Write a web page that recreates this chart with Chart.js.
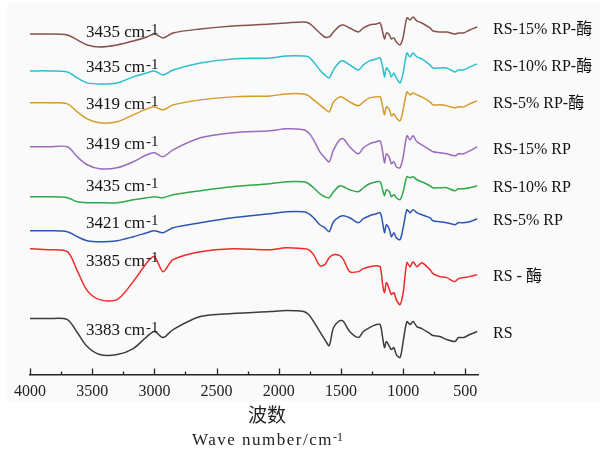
<!DOCTYPE html>
<html>
<head>
<meta charset="utf-8">
<script src="https://cdn.jsdelivr.net/npm/chart.js@4.4.1/dist/chart.umd.min.js"></script>
<style>
  html, body { margin: 0; padding: 0; background: #fff; }
</style>
</head>
<body>
<canvas id="ftir" width="600" height="453"></canvas>
<script>
// wave numbers (cm-1) shared by every spectrum
const waveNumbers = [4000, 3850, 3700, 3620, 3540, 3440, 3300, 3170, 3060, 3000,
  2930, 2850, 2630, 2370, 2070, 1940, 1800, 1760, 1720, 1670,
  1630, 1595, 1560, 1510, 1480, 1430, 1360, 1320, 1270, 1215,
  1185, 1165, 1150, 1135, 1110, 1095, 1075, 1055, 1025, 1000,
  970, 945, 920, 890, 850, 785, 760, 705, 650, 585,
  555, 515, 465, 405];

// transmittance, stacked with offsets (a.u.)
const rs15Enzyme = [341, 341, 340, 335, 330, 328, 330, 334, 338, 341, 337, 342, 346, 349, 351, 352, 353, 352, 348, 342, 338, 338, 343, 349, 350, 347, 343, 347, 350, 351, 352, 343, 336, 342, 340, 336, 337, 333, 330, 338, 357, 355, 358, 354, 352, 347, 344, 343, 343, 341, 342, 342, 345, 348];
const rs10Enzyme = [304, 304, 303, 297, 292, 291, 292, 298, 302, 304, 300, 305, 312, 316, 317, 319, 319, 318, 313, 305, 300, 297, 305, 313, 314, 310, 305, 310, 314, 316, 317, 308, 298, 307, 303, 298, 302, 297, 292, 302, 322, 318, 322, 318, 316, 310, 307, 307, 307, 303, 305, 305, 308, 311];
const rs5Enzyme = [272, 272, 271, 263, 256, 252, 253, 260, 266, 268, 265, 270, 275, 278, 279, 281, 281, 279, 275, 270, 266, 263, 273, 278, 277, 273, 269, 273, 277, 278, 278, 268, 260, 268, 265, 259, 261, 257, 254, 265, 283, 280, 282, 280, 278, 273, 270, 270, 269, 267, 268, 268, 271, 274];
const rs15 = [228, 228, 228, 218, 210, 206, 207, 213, 220, 222, 218, 225, 237, 242, 244, 246, 245, 242, 235, 223, 217, 213, 225, 235, 236, 228, 221, 227, 231, 233, 234, 223, 212, 221, 217, 211, 213, 208, 207, 218, 239, 235, 239, 233, 230, 225, 223, 222, 221, 219, 221, 221, 224, 228];
const rs10 = [178, 178, 177, 173, 172, 172, 172, 175, 177, 178, 177, 180, 184, 188, 191, 193, 193, 191, 187, 181, 178, 177, 183, 189, 188, 185, 183, 187, 191, 193, 193, 185, 179, 185, 183, 178, 180, 177, 175, 183, 198, 197, 198, 195, 193, 189, 187, 187, 187, 184, 186, 186, 187, 189];
const rs5 = [144, 144, 143, 138, 134, 133, 134, 138, 142, 144, 142, 147, 152, 157, 161, 163, 163, 161, 157, 150, 147, 143, 153, 158, 159, 157, 152, 156, 159, 161, 162, 152, 142, 150, 145, 138, 142, 137, 135, 147, 165, 162, 165, 162, 160, 157, 154, 153, 152, 150, 152, 152, 153, 156];
const rsEnzyme = [126, 125, 123, 104, 84, 75, 75, 93, 112, 118, 103, 115, 123, 126, 125, 127, 126, 125, 120, 109, 110, 117, 120, 119, 115, 103, 103, 106, 108, 109, 108, 90, 82, 92, 85, 80, 82, 75, 70, 82, 112, 108, 113, 108, 112, 105, 101, 98, 97, 93, 96, 97, 98, 100];
const rs = [56, 56, 55, 42, 28, 20, 20, 26, 38, 43, 37, 45, 58, 61, 63, 64, 63, 60, 53, 43, 35, 29, 47, 54, 53, 43, 37, 43, 47, 50, 50, 37, 27, 33, 28, 25, 27, 20, 17, 33, 53, 50, 53, 48, 46, 41, 39, 38, 35, 33, 37, 37, 40, 43];

const seriesNames = ["RS-15% RP-酶", "RS-10% RP-酶", "RS-5% RP-酶", "RS-15% RP", "RS-10% RP", "RS-5% RP", "RS - 酶", "RS"];
const peakLabels = ["3435", "3435", "3419", "3419", "3435", "3421", "3385", "3383"];
const tickValues = [4000, 3500, 3000, 2500, 2000, 1500, 1000, 500];
const minorTickValues = [3750, 3250, 2750, 2250, 1750, 1250, 750];

const spectra = [rs15Enzyme, rs10Enzyme, rs5Enzyme, rs15, rs10, rs5, rsEnzyme, rs];
const colors = ["#86534c", "#2bbfcd", "#d59a2c", "#9a6bbd", "#2ea84a", "#2d56b2", "#f02828", "#3c3c3c"];
const peakLabelY = [33, 68, 105, 145, 187, 224, 261.5, 331];

const serif = '"Liberation Serif", "Noto Sans CJK SC"';

const decor = {
  id: "decor",
  beforeDraw(chart) {
    const ctx = chart.ctx;
    ctx.save();
    ctx.fillStyle = "#fafafa";
    ctx.fillRect(7, 3, 593, 398);
    ctx.restore();
  },
  afterDraw(chart) {
    const { ctx, chartArea, scales } = chart;
    const x = scales.x;
    const base = chartArea.bottom;
    ctx.save();

    // ticks pointing up
    ctx.strokeStyle = "#222";
    ctx.lineWidth = 1.3;
    const tick = (v, len) => {
      const px = Math.round(x.getPixelForValue(v)) + 0.5;
      ctx.beginPath();
      ctx.moveTo(px, base);
      ctx.lineTo(px, base - len);
      ctx.stroke();
    };
    tickValues.forEach(v => tick(v, 6));
    minorTickValues.forEach(v => tick(v, 3));

    // series names at the right end of each curve
    ctx.fillStyle = "#111";
    ctx.textBaseline = "middle";
    ctx.font = "16px " + serif;
    chart.data.datasets.forEach((ds, i) => {
      const pts = chart.getDatasetMeta(i).data;
      ctx.fillText(ds.label, 493, pts[pts.length - 1].y + 2.5);
    });

    // peak labels
    peakLabels.forEach((p, i) => {
      const y = peakLabelY[i];
      ctx.font = "17px " + serif;
      ctx.textBaseline = "middle";
      const txt = p + " cm";
      ctx.fillText(txt, 86, y);
      const w = ctx.measureText(txt).width;
      ctx.font = "15px " + serif;
      ctx.textBaseline = "alphabetic";
      ctx.fillText("-1", 86 + w + 1, y + 0.5);
    });

    // axis title
    ctx.fillStyle = "#222";
    ctx.textAlign = "center";
    ctx.textBaseline = "middle";
    ctx.font = '19px "Noto Sans CJK SC"';
    ctx.fillText("波数", 267, 415);

    ctx.textAlign = "left";
    ctx.font = "17px " + serif;
    ctx.letterSpacing = "1.5px";
    const main = "Wave number/cm";
    const mw = ctx.measureText(main).width;
    ctx.font = "12px " + serif;
    ctx.letterSpacing = "0px";
    const sw = ctx.measureText("-1").width;
    const x0 = 267.5 - (mw + sw) / 2;
    ctx.font = "17px " + serif;
    ctx.letterSpacing = "1.5px";
    ctx.fillText(main, x0, 441);
    ctx.font = "12px " + serif;
    ctx.letterSpacing = "0px";
    ctx.textBaseline = "alphabetic";
    ctx.fillText("-1", x0 + mw, 441);
    ctx.restore();
  }
};

new Chart(document.getElementById("ftir"), {
  type: "line",
  data: {
    datasets: spectra.map((s, i) => ({
      label: seriesNames[i],
      data: s.map((v, k) => ({ x: waveNumbers[k], y: v })),
      borderColor: colors[i],
      borderWidth: 1.5,
      pointRadius: 0,
      fill: false,
      tension: 0.3
    }))
  },
  options: {
    responsive: false,
    animation: false,
    layout: { padding: { left: 30, right: 121.7, top: 5, bottom: 43.3 } },
    plugins: { legend: { display: false }, tooltip: { enabled: false } },
    scales: {
      x: {
        type: "linear",
        reverse: true,
        min: 396,
        max: 4000,
        afterBuildTicks: s => { s.ticks = tickValues.map(v => ({ value: v })); },
        grid: { display: false, drawTicks: false },
        border: { display: true, color: "#222", width: 1.5 },
        ticks: {
          font: { family: "Liberation Serif", size: 16 },
          color: "#222",
          padding: 8,
          maxRotation: 0,
          autoSkip: false,
          callback: v => String(v)
        }
      },
      y: { display: false, min: 0, max: 370 }
    }
  },
  plugins: [decor]
});
</script>
</body>
</html>
